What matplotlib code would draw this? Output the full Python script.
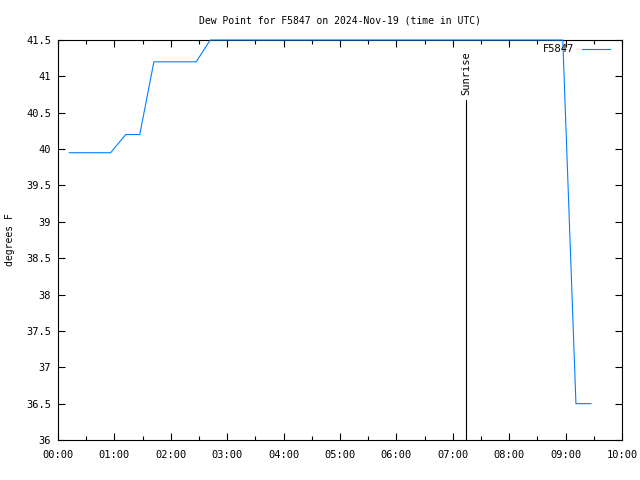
import matplotlib
matplotlib.use("Agg")
import matplotlib.pyplot as plt
from matplotlib.ticker import MultipleLocator, FuncFormatter

times = ["00:12", "00:56", "01:12", "01:27", "01:42", "02:27", "02:42", "08:57", "09:11", "09:27"]
dewpoint = [39.95, 39.95, 40.2, 40.2, 41.2, 41.2, 41.5, 41.5, 36.5, 36.5]
sunrise = "07:14"
series_name = "F5847"
title = "Dew Point for F5847 on 2024-Nov-19 (time in UTC)"
ylabel = "degrees F"

def to_hours(s):
    h, m = s.split(":")
    return int(h) + int(m) / 60.0

x = [to_hours(t) for t in times]

plt.rcParams['font.family'] = ['DejaVu Sans Mono']
fig = plt.figure(figsize=(6.4, 4.8), dpi=100)
ax = fig.add_axes([58/640, 40/480, 564/640, 400/480])

ax.plot(x, dewpoint, color='#0080ff', lw=0.8, label=series_name, clip_on=False, zorder=3)

sr = to_hours(sunrise)
ax.plot([sr, sr], [36, 40.67], color='black', lw=0.8)
ax.text(sr, 41.34, "Sunrise", rotation=90, ha='center', va='top', fontsize=7.5)

ax.set_xlim(0, 10)
ax.set_ylim(36, 41.5)
ax.xaxis.set_major_locator(MultipleLocator(1))
ax.xaxis.set_minor_locator(MultipleLocator(0.5))
ax.xaxis.set_major_formatter(FuncFormatter(lambda v, p: "%02d:00" % int(round(v))))
ax.yaxis.set_major_locator(MultipleLocator(0.5))
ax.yaxis.set_major_formatter(FuncFormatter(lambda v, p: ("%g" % v)))
ax.tick_params(which='both', direction='in', top=True, right=True, labelsize=7.5, width=0.8)
ax.tick_params(which='major', length=5)
ax.tick_params(axis='x', which='major', pad=7)
ax.tick_params(axis='y', which='major', pad=5)
ax.tick_params(which='minor', length=3)
for s in ax.spines.values():
    s.set_linewidth(0.8)

ax.set_title(title, fontsize=7, pad=12)
ax.set_ylabel(ylabel, fontsize=7)
ax.yaxis.set_label_coords(-(58 - 15) / 564, 0.5)

leg = ax.legend(loc='upper right', bbox_to_anchor=(1 - 8/564, 1.0), frameon=False, fontsize=7.5,
                markerfirst=False, handlelength=2.7, borderaxespad=0.0, handletextpad=0.7)

fig.savefig("out.png", dpi=100)
